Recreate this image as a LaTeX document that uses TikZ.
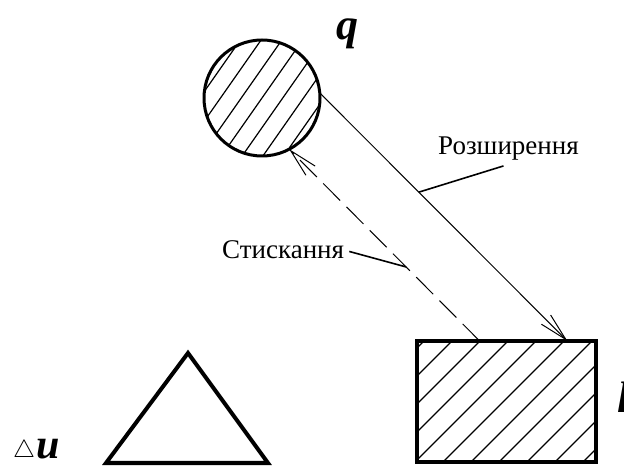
\documentclass[tikz,border=0pt]{standalone}
\usepackage{fontspec}
\setmainfont{Liberation Serif}
\usetikzlibrary{arrows.meta,calc}

\tikzset{
  bola/.style={circle, draw, line width=3pt, minimum size=116pt,
    inner sep=0pt, outer sep=0pt},
  caixa/.style={rectangle, draw, line width=3.5pt, minimum width=179pt,
    minimum height=121pt, inner sep=0pt, outer sep=0pt},
  hachura/.style={line width=1.2pt},
  seta/.style={line width=1pt, -{Straight Barb[length=28pt,width=13pt]}},
  guia/.style={line width=1.6pt},
  rotulo/.style={font=\fontsize{27}{31}\selectfont},
  letra/.style={font=\fontsize{44}{48}\selectfont\bfseries\itshape}
}

\begin{document}
\begin{tikzpicture}[x=1pt,y=1pt]
  \useasboundingbox (0,0) rectangle (624,466);

  % Corpos.
  \node[bola] (bola) at (262,368) {};
  \begin{scope}
    \clip (bola.center) circle (57pt);
    \begin{scope}[shift={(bola.center)}, rotate=-35]
      \foreach \d in {-3,...,3}
        \draw[hachura] ({\d*17},-70) -- ({\d*17},70);
    \end{scope}
  \end{scope}

  \node[caixa, anchor=south west] (caixa) at (417,4) {};
  \begin{scope}
    \clip (caixa.south west) rectangle (caixa.north east);
    \foreach \k in {-1,...,9}
      \draw[hachura] ({317+28*\k},-10) -- ++(230,230);
  \end{scope}

  \draw[line width=4pt, line join=miter] (106,3) -- (188,113) -- (268,3) -- cycle;

  % Rotulos dos corpos.
  \node[letra, anchor=base] (q) at (347,426) {q};
  \node[letra, anchor=base west, inner sep=0pt] (l) at (617,53) {l};
  \node[anchor=base west, inner sep=0pt] (du) at (13,8)
    {\resizebox{22pt}{!}{$\triangle$}\,{\fontsize{42}{46}\selectfont\bfseries\itshape u}};

  % Setas entre os corpos.
  \coordinate (fim) at ($(caixa.north west)!0.84!(caixa.north east)$);
  \coordinate (ini) at ($(caixa.north west)!0.35!(caixa.north east)$);
  \draw[seta] (bola.5) -- coordinate[pos=0.4] (pr) (fim);
  \draw[seta, dash pattern=on 24pt off 9pt] (ini) -- coordinate[pos=0.386] (pc) (bola.-62);

  % Legendas.
  \node[rotulo, anchor=base west, inner sep=0pt] (rozsh) at (438,311) {Розширення};
  \node[rotulo, anchor=base west, inner sep=0pt] (stysk) at (222,207) {Стискання};
  \draw[guia] (pr) -- ([xshift=-5pt,yshift=-5pt]rozsh.south);
  \draw[guia] ([xshift=5pt,yshift=8pt]stysk.south east) -- (pc);
\end{tikzpicture}
\end{document}
